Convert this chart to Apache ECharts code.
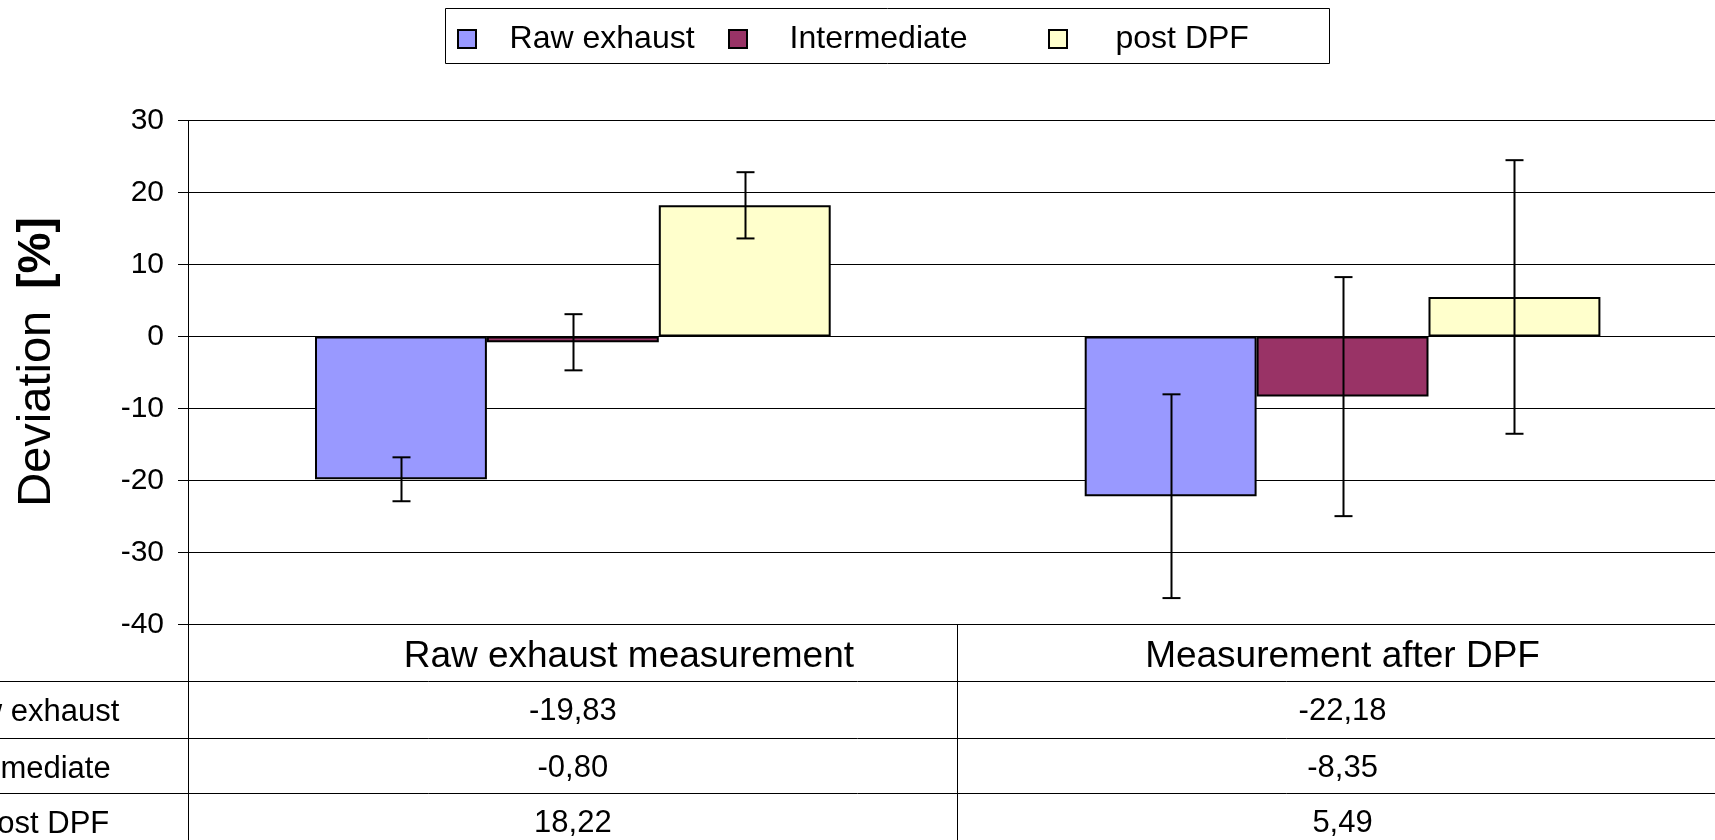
<!DOCTYPE html>
<html><head><meta charset="utf-8">
<script src="https://cdn.jsdelivr.net/npm/echarts@6/dist/echarts.min.js"></script>
<style>html,body{margin:0;padding:0;background:#fff;overflow:hidden}#c{width:1715px;height:840px}</style>
</head><body><div id="c"></div>
<script>
// ---- data ----
const categories = ['Raw exhaust measurement', 'Measurement after DPF'];
const seriesNames = ['Raw exhaust', 'Intermediate', 'post DPF'];
const rawExhaust = [-19.83, -22.18];
const intermediate = [-0.80, -8.35];
const postDPF = [18.22, 5.49];
const rawExhaustErr = [3.05, 14.15];
const intermediateErr = [3.9, 16.6];
const postDPFErr = [4.6, 19.0];
const yMin = -40, yMax = 30, yStep = 10;

// ---- styling ----
const FONT = 'Liberation Sans, Arial, sans-serif';
const colors = ['#9999FF', '#993366', '#FFFFCC'];
const values = [rawExhaust, intermediate, postDPF];
const errs = [rawExhaustErr, intermediateErr, postDPFErr];
const GAP = 0.33;
const fmt = v => v.toFixed(2).replace('.', ',');

const chart = echarts.init(document.getElementById('c'), null, {renderer: 'canvas'});

function errSeries(idx) {
  return {
    type: 'custom',
    name: seriesNames[idx] + ' err',
    z: 10,
    silent: true,
    encode: {x: 0, y: [1, 2]},
    data: values[idx].map((v, i) => [i, v - errs[idx][i], v + errs[idx][i]]),
    renderItem: function (params, api) {
      const c = api.value(0);
      const lo = api.coord([c, api.value(1)]);
      const hi = api.coord([c, api.value(2)]);
      const catW = api.size([1, 0])[0];
      const barW = catW * (1 - GAP) / 3;
      const x = Math.round(lo[0] + (idx - 1) * barW) + 0.5;
      const hw = 9;
      const st = {stroke: '#000', lineWidth: 2};
      return {type: 'group', children: [
        {type: 'line', shape: {x1: x, y1: hi[1], x2: x, y2: lo[1]}, style: st},
        {type: 'line', shape: {x1: x - hw, y1: hi[1], x2: x + hw, y2: hi[1]}, style: st},
        {type: 'line', shape: {x1: x - hw, y1: lo[1], x2: x + hw, y2: lo[1]}, style: st}
      ]};
    }
  };
}

const legendLeft = [457, 728, 1048];
const legendPad = [28.6, 37.6, 43.5];
const rowTops = [681, 738, 793];
const rowLabelRight = [119.3, 110.7, 109.3];
const GRID_BOTTOM = 624.5;

const option = {
  animation: false,
  backgroundColor: '#fff',
  textStyle: {fontFamily: FONT, color: '#000'},
  grid: {left: 188, top: 120.5, width: 1539.4, height: 504, containLabel: false, outerBoundsMode: 'none'},
  legend: seriesNames.map((n, i) => ({
    data: [{name: n, icon: 'rect', itemStyle: {color: colors[i], borderColor: '#000', borderWidth: 2}}],
    left: legendLeft[i], top: 23, padding: 0,
    itemWidth: 18, itemHeight: 18,
    selectedMode: false,
    textStyle: {fontSize: 32, color: '#000', fontFamily: FONT, padding: [5, 0, 0, legendPad[i]]}
  })),
  xAxis: [
    {
      type: 'category', data: categories, position: 'bottom',
      axisLine: {show: true, onZero: false, lineStyle: {color: '#000', width: 1}},
      axisTick: {show: true, alignWithLabel: false, length: 216, lineStyle: {color: '#000', width: 1}},
      axisLabel: {
        fontSize: 37, color: '#000', margin: 14, interval: 0, fontFamily: FONT,
        formatter: (v, i) => i === 0 ? '{s|' + v + '}' : '{c|' + v + '}',
        rich: {
          s: {fontSize: 37, fontFamily: FONT, color: '#000', padding: [0, 0, 0, 112]},
          c: {fontSize: 37, fontFamily: FONT, color: '#000'}
        }
      },
      splitLine: {show: false}
    }
  ].concat(values.map((arr, k) => ({
    type: 'category', data: arr.map(fmt), position: 'bottom',
    offset: rowTops[k] - GRID_BOTTOM,
    axisLine: {show: false, onZero: false}, axisTick: {show: false},
    axisLabel: {fontSize: 31, color: '#000', margin: 15, interval: 0, fontFamily: FONT},
    splitLine: {show: false}
  }))),
  yAxis: {
    type: 'value', min: yMin, max: yMax, interval: yStep,
    axisLine: {show: true, lineStyle: {color: '#000', width: 1}},
    axisTick: {show: true, length: 10, lineStyle: {color: '#000', width: 1}},
    axisLabel: {fontSize: 30, color: '#000', margin: 24, fontFamily: FONT},
    splitLine: {show: true, lineStyle: {color: '#000', width: 1}}
  },
  series: seriesNames.map((n, i) => ({
    type: 'bar', name: n, data: values[i],
    barGap: '0%', barCategoryGap: (GAP * 100) + '%',
    itemStyle: {color: colors[i], borderColor: '#000', borderWidth: 2},
    silent: true
  })).concat([0, 1, 2].map(errSeries)),
  graphic: [
    {type: 'rect', shape: {x: 445.5, y: 8.5, width: 884, height: 55}, style: {fill: 'none', stroke: '#000', lineWidth: 1}, silent: true},
    {type: 'text', x: 37, y: 362, rotation: Math.PI / 2, silent: true,
     style: {text: '{n|Deviation}{b|[%]}', textAlign: 'center', textVerticalAlign: 'middle',
       rich: {n: {fontSize: 47, fontFamily: FONT, fill: '#000'},
              b: {fontSize: 46, fontWeight: 'bold', fontFamily: FONT, fill: '#000', padding: [0, 0, 0, 22]}}}}
  ].concat(rowTops.map(y => ({
    type: 'line', silent: true, shape: {x1: 0, y1: y + 0.5, x2: 1715, y2: y + 0.5}, style: {stroke: '#000', lineWidth: 1}
  }))).concat(seriesNames.map((n, k) => ({
    type: 'text', silent: true, x: rowLabelRight[k], y: rowTops[k] + 31.5,
    style: {text: n, fontSize: 31, fontFamily: FONT, fill: '#000', textAlign: 'right', textVerticalAlign: 'middle'}
  })))
};
chart.setOption(option);
</script>
</body></html>
